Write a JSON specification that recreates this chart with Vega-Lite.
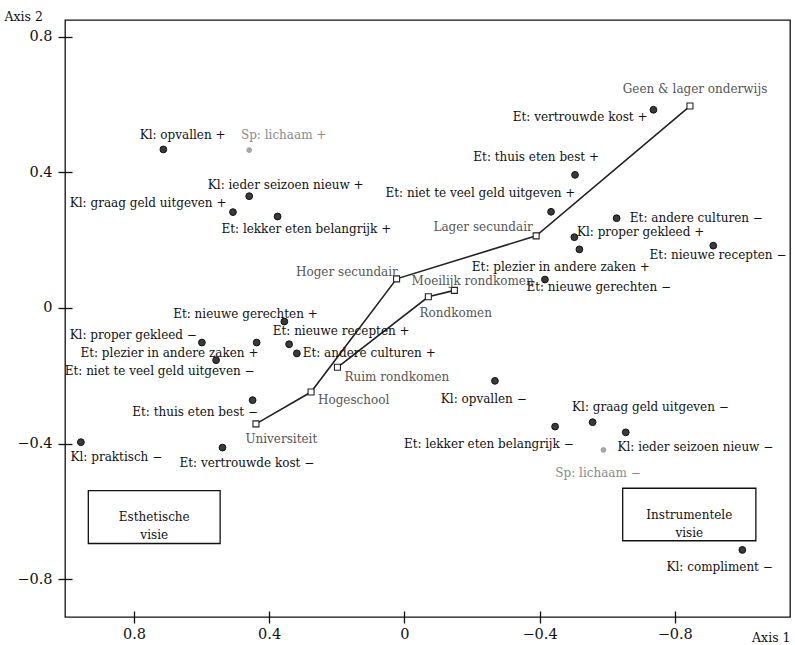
{
  "$schema": "https://vega.github.io/schema/vega-lite/v6.json",
  "width": 725,
  "height": 597,
  "autosize": {"type": "none"},
  "padding": {"left": 65, "top": 20, "right": 5, "bottom": 28},
  "background": "white",
  "config": {
    "font": "DejaVu Serif",
    "view": {"stroke": "#111", "strokeWidth": 1.3},
    "axis": {
      "domain": false, "tickColor": "#111", "tickWidth": 1.3,
      "labelFont": "DejaVu Serif", "labelFontSize": 14.5, "labelColor": "#111",
      "titleFont": "DejaVu Serif", "titleFontSize": 12.5, "titleFontWeight": "normal", "titleColor": "#111",
      "grid": false
    },
    "axisY": {"offset": -7, "tickSize": 14, "labelPadding": 6, "titleAngle": 0, "titleAlign": "left", "titleBaseline": "middle", "titleX": -68, "titleY": -4},
    "axisX": {"offset": -6, "tickSize": 12, "labelPadding": 4, "titleAlign": "right", "titleAnchor": "end", "titleBaseline": "middle", "titleX": 725, "titleY": 26}
  },
  "datasets": {
    "pts": [
      {"label": "Kl: opvallen +", "x": 0.713, "y": 0.468, "lx": 0.656, "ly": 0.511, "kind": "dot"},
      {"label": "Sp: lichaam +", "x": 0.459, "y": 0.466, "lx": 0.357, "ly": 0.511, "kind": "sp"},
      {"label": "Kl: ieder seizoen nieuw +", "x": 0.459, "y": 0.330, "lx": 0.351, "ly": 0.363, "kind": "dot"},
      {"label": "Kl: graag geld uitgeven +", "x": 0.507, "y": 0.283, "lx": 0.758, "ly": 0.310, "kind": "dot"},
      {"label": "Et: lekker eten belangrijk +", "x": 0.375, "y": 0.270, "lx": 0.290, "ly": 0.233, "kind": "dot"},
      {"label": "Et: vertrouwde kost +", "x": -0.737, "y": 0.585, "lx": -0.520, "ly": 0.563, "kind": "dot"},
      {"label": "Et: thuis eten best +", "x": -0.505, "y": 0.393, "lx": -0.390, "ly": 0.447, "kind": "dot"},
      {"label": "Et: niet te veel geld uitgeven +", "x": -0.434, "y": 0.284, "lx": -0.225, "ly": 0.340, "kind": "dot"},
      {"label": "Et: andere culturen −", "x": -0.628, "y": 0.265, "lx": -0.864, "ly": 0.265, "kind": "dot"},
      {"label": "Kl: proper gekleed +", "x": -0.503, "y": 0.209, "lx": -0.699, "ly": 0.225, "kind": "dot"},
      {"label": "Et: plezier in andere zaken +", "x": -0.518, "y": 0.173, "lx": -0.463, "ly": 0.122, "kind": "dot"},
      {"label": "Et: nieuwe recepten −", "x": -0.914, "y": 0.184, "lx": -0.928, "ly": 0.156, "kind": "dot"},
      {"label": "Et: nieuwe gerechten −", "x": -0.416, "y": 0.084, "lx": -0.575, "ly": 0.061, "kind": "dot"},
      {"label": "Et: nieuwe gerechten +", "x": 0.355, "y": -0.040, "lx": 0.470, "ly": -0.019, "kind": "dot"},
      {"label": "Kl: proper gekleed −", "x": 0.599, "y": -0.102, "lx": 0.802, "ly": -0.080, "kind": "dot"},
      {"label": "Et: plezier in andere zaken +", "x": 0.437, "y": -0.102, "lx": 0.695, "ly": -0.134, "kind": "dot"},
      {"label": "Et: niet te veel geld uitgeven −", "x": 0.557, "y": -0.154, "lx": 0.724, "ly": -0.186, "kind": "dot"},
      {"label": "Et: nieuwe recepten +", "x": 0.341, "y": -0.107, "lx": 0.187, "ly": -0.068, "kind": "dot"},
      {"label": "Et: andere culturen +", "x": 0.318, "y": -0.134, "lx": 0.104, "ly": -0.132, "kind": "dot"},
      {"label": "Et: thuis eten best −", "x": 0.449, "y": -0.272, "lx": 0.619, "ly": -0.306, "kind": "dot"},
      {"label": "Kl: praktisch −", "x": 0.957, "y": -0.396, "lx": 0.852, "ly": -0.439, "kind": "dot"},
      {"label": "Et: vertrouwde kost −", "x": 0.538, "y": -0.412, "lx": 0.466, "ly": -0.458, "kind": "dot"},
      {"label": "Kl: opvallen −", "x": -0.268, "y": -0.215, "lx": -0.235, "ly": -0.269, "kind": "dot"},
      {"label": "Et: lekker eten belangrijk −", "x": -0.446, "y": -0.350, "lx": -0.250, "ly": -0.401, "kind": "dot"},
      {"label": "Kl: graag geld uitgeven −", "x": -0.557, "y": -0.337, "lx": -0.728, "ly": -0.291, "kind": "dot"},
      {"label": "Kl: ieder seizoen nieuw −", "x": -0.655, "y": -0.367, "lx": -0.861, "ly": -0.409, "kind": "dot"},
      {"label": "Sp: lichaam −", "x": -0.589, "y": -0.419, "lx": -0.573, "ly": -0.488, "kind": "sp"},
      {"label": "Kl: compliment −", "x": -1.000, "y": -0.714, "lx": -0.933, "ly": -0.764, "kind": "dot"}
    ],
    "cats": [
      {"label": "Universiteit", "group": "opleiding", "ord": 1, "x": 0.439, "y": -0.342, "lx": 0.364, "ly": -0.387},
      {"label": "Hogeschool", "group": "opleiding", "ord": 2, "x": 0.276, "y": -0.248, "lx": 0.150, "ly": -0.272},
      {"label": "Hoger secundair", "group": "opleiding", "ord": 3, "x": 0.023, "y": 0.086, "lx": 0.170, "ly": 0.107},
      {"label": "Lager secundair", "group": "opleiding", "ord": 4, "x": -0.390, "y": 0.213, "lx": -0.233, "ly": 0.238},
      {"label": "Geen & lager onderwijs", "group": "opleiding", "ord": 5, "x": -0.845, "y": 0.596, "lx": -0.860, "ly": 0.646},
      {"label": "Ruim rondkomen", "group": "inkomen", "ord": 1, "x": 0.198, "y": -0.175, "lx": 0.022, "ly": -0.203},
      {"label": "Rondkomen", "group": "inkomen", "ord": 2, "x": -0.071, "y": 0.033, "lx": -0.152, "ly": -0.014},
      {"label": "Moeilijk rondkomen", "group": "inkomen", "ord": 3, "x": -0.148, "y": 0.052, "lx": -0.202, "ly": 0.081}
    ],
    "boxes": [
      {"label": "Esthetische\nvisie", "x1": 0.935, "x2": 0.545, "y1": -0.539, "y2": -0.695, "cx": 0.740, "cy": -0.617},
      {"label": "Instrumentele\nvisie", "x1": -0.646, "x2": -1.040, "y1": -0.532, "y2": -0.687, "cx": -0.843, "cy": -0.610}
    ]
  },
  "layer": [
    {
      "data": {"name": "pts"},
      "mark": {"type": "point", "opacity": 0},
      "encoding": {
        "x": {"field": "x", "type": "quantitative", "title": "Axis 1",
              "scale": {"domain": [-1.141, 1.004], "reverse": true, "nice": false, "zero": false},
              "axis": {"values": [0.8, 0.4, 0, -0.4, -0.8], "format": "~g", "orient": "bottom"}},
        "y": {"field": "y", "type": "quantitative", "title": "Axis 2",
              "scale": {"domain": [-0.912, 0.850], "nice": false, "zero": false},
              "axis": {"values": [0.8, 0.4, 0, -0.4, -0.8], "format": "~g", "orient": "left"}}
      }
    },
    {
      "mark": {"type": "rule", "strokeDash": [7, 4], "stroke": "#111", "strokeWidth": 1.3},
      "encoding": {"x": {"datum": 0, "type": "quantitative", "title": "Axis 1"}}
    },
    {
      "mark": {"type": "rule", "strokeDash": [7, 4], "stroke": "#111", "strokeWidth": 1.3},
      "encoding": {"y": {"datum": 0, "type": "quantitative", "title": "Axis 2"}}
    },
    {
      "data": {"name": "boxes"},
      "mark": {"type": "rect", "fill": "white", "stroke": "#111", "strokeWidth": 1.3},
      "encoding": {
        "x": {"field": "x1", "type": "quantitative", "title": "Axis 1"},
        "x2": {"field": "x2"},
        "y": {"field": "y1", "type": "quantitative", "title": "Axis 2"},
        "y2": {"field": "y2"}
      }
    },
    {
      "data": {"name": "boxes"},
      "mark": {"type": "text", "font": "DejaVu Serif", "fontSize": 12, "lineBreak": "\n", "lineHeight": 18, "align": "center", "baseline": "middle", "color": "#111"},
      "encoding": {
        "x": {"field": "cx", "type": "quantitative", "title": "Axis 1"},
        "y": {"field": "cy", "type": "quantitative", "title": "Axis 2"},
        "text": {"field": "label"}
      }
    },
    {
      "data": {"name": "cats"},
      "mark": {"type": "line", "stroke": "#222", "strokeWidth": 1.6},
      "encoding": {
        "x": {"field": "x", "type": "quantitative", "title": "Axis 1"},
        "y": {"field": "y", "type": "quantitative", "title": "Axis 2"},
        "detail": {"field": "group"},
        "order": {"field": "ord"}
      }
    },
    {
      "data": {"name": "cats"},
      "mark": {"type": "point", "shape": "square", "size": 36, "filled": true, "fill": "white", "stroke": "#222", "strokeWidth": 1.1, "opacity": 1},
      "encoding": {
        "x": {"field": "x", "type": "quantitative", "title": "Axis 1"},
        "y": {"field": "y", "type": "quantitative", "title": "Axis 2"}
      }
    },
    {
      "data": {"name": "cats"},
      "mark": {"type": "text", "font": "DejaVu Serif", "fontSize": 12, "align": "center", "baseline": "middle", "color": "#555"},
      "encoding": {
        "x": {"field": "lx", "type": "quantitative", "title": "Axis 1"},
        "y": {"field": "ly", "type": "quantitative", "title": "Axis 2"},
        "text": {"field": "label"}
      }
    },
    {
      "data": {"name": "pts"},
      "mark": {"type": "point", "shape": "circle", "filled": true, "strokeWidth": 1, "opacity": 1},
      "encoding": {
        "x": {"field": "x", "type": "quantitative", "title": "Axis 1"},
        "y": {"field": "y", "type": "quantitative", "title": "Axis 2"},
        "fill": {"field": "kind", "type": "nominal", "scale": {"domain": ["dot", "sp"], "range": ["#3a3a3a", "#aaaaaa"]}, "legend": null},
        "stroke": {"field": "kind", "type": "nominal", "scale": {"domain": ["dot", "sp"], "range": ["#111111", "#999999"]}, "legend": null},
        "size": {"field": "kind", "type": "nominal", "scale": {"domain": ["dot", "sp"], "range": [46, 22]}, "legend": null}
      }
    },
    {
      "data": {"name": "pts"},
      "mark": {"type": "text", "font": "DejaVu Serif", "fontSize": 12, "align": "center", "baseline": "middle"},
      "encoding": {
        "x": {"field": "lx", "type": "quantitative", "title": "Axis 1"},
        "y": {"field": "ly", "type": "quantitative", "title": "Axis 2"},
        "text": {"field": "label"},
        "color": {"field": "kind", "type": "nominal", "scale": {"domain": ["dot", "sp"], "range": ["#111111", "#8a8a8a"]}, "legend": null}
      }
    }
  ]
}
